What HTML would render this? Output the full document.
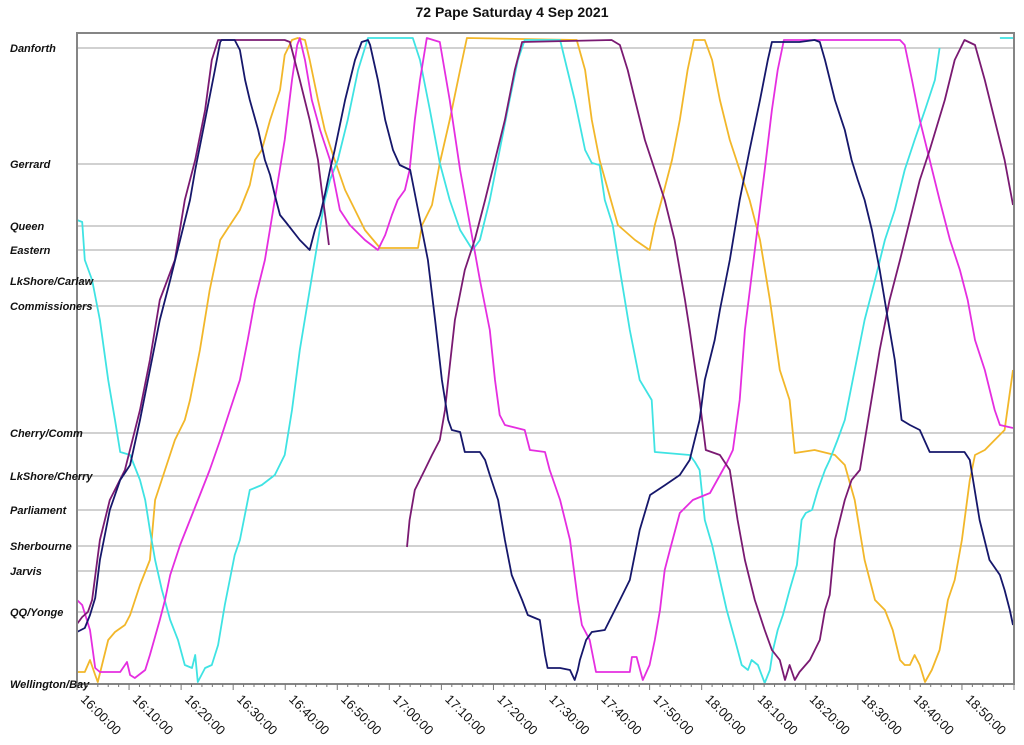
<!DOCTYPE html>
<html><head><meta charset="utf-8"><title>72 Pape Saturday 4 Sep 2021</title>
<style>
html,body{margin:0;padding:0;background:#fff;}
svg{display:block;font-family:"Liberation Sans",Arial,sans-serif;}
.stop{font-size:11px;font-weight:bold;font-style:italic;fill:#111;}
.tick{font-size:13px;fill:#111;}
</style></head>
<body>
<svg id="chart" width="1024" height="745" viewBox="0 0 1024 745" xmlns="http://www.w3.org/2000/svg">
<text x="512" y="17" text-anchor="middle" font-size="14" font-weight="bold" fill="#111">72 Pape Saturday 4 Sep 2021</text>
<g id="grid"></g>
<g id="series"></g>
<rect x="77" y="33" width="937" height="651" fill="none" stroke="#858585" stroke-width="2"/>
<g id="axes"></g>
</svg>
<script>
// stops (distance units, Wellington/Bay = 0)
const stopNames = ["Danforth","Gerrard","Queen","Eastern","LkShore/Carlaw","Commissioners","Cherry/Comm","LkShore/Cherry","Parliament","Sherbourne","Jarvis","QQ/Yonge","Wellington/Bay"];
const stopDist = [636,520,458,434,403,378,251,208,174,138,113,72,0];
// x ticks (minutes after 16:00)
const tickMinutes = [0,10,20,30,40,50,60,70,80,90,100,110,120,130,140,150,160,170];
const tickLabels = ["16:00:00","16:10:00","16:20:00","16:30:00","16:40:00","16:50:00","17:00:00","17:10:00","17:20:00","17:30:00","17:40:00","17:50:00","18:00:00","18:10:00","18:20:00","18:30:00","18:40:00","18:50:00"];

const navyT = [0,1.5,2.5,3.5,4.4,6.3,8.3,10.2,12.1,14.0,15.9,17.9,19.8,21.7,22.7,24.6,26.5,27.5,27.8,30.3,31.3,32.3,33.2,34.8,36.1,37.1,38.0,39.0,40.1,42.8,44.7,45.7,46.7,47.6,48.6,49.5,51.5,53.4,54.7,55.9,56.3,57.8,59.2,60.7,62.0,64.0,65.9,67.4,68.8,70.1,71.3,72.0,73.6,74.5,77.4,78.4,79.3,80.9,82.2,83.5,84.7,85.5,86.6,88.9,89.9,90.4,92.8,94.7,95.6,96.2,96.6,97.8,98.9,101.4,104.3,106.2,108.1,110.1,113.0,115.8,117.7,119.6,120.6,122.5,123.5,125.4,127.3,129.2,131.2,132.7,133.5,138.8,141.7,142.7,143.7,145.6,147.5,148.8,150.0,151.3,152.7,154.2,155.8,157.1,158.4,160.0,161.9,163.8,170.5,171.5,173.4,175.3,177.3,178.2,179.2,179.8];
const navyD = [52,56,69,86,124,174,204,219,264,314,364,404,444,484,514,564,614,642,644,644,634,604,584,554,524,509,489,469,462,444,434,454,469,489,514,534,584,624,642,644,639,604,564,534,519,514,464,424,364,304,264,254,252,232,232,224,209,184,144,109,94,84,69,64,29,16,16,14,4,14,24,44,52,54,84,104,154,189,199,209,224,264,304,344,374,424,484,534,584,624,642,642,644,642,624,584,554,524,504,484,454,414,364,324,264,259,254,232,232,224,164,124,109,94,74,59];

const purpleT = [0,1.0,2.1,2.9,4.4,6.3,9.2,12.1,14.0,15.9,18.8,20.7,22.7,24.6,25.9,27.1,39.9,40.9,42.8,44.7,46.3,47.0,47.8,48.4,null,63.4,63.9,64.9,66.8,68.2,69.7,70.7,71.3,72.6,74.5,76.4,78.4,80.3,82.2,84.1,85.5,102.7,104.3,105.8,107.2,109.1,111.0,112.9,114.8,116.8,117.7,119.6,120.8,123.5,125.4,126.9,128.3,130.2,132.1,133.5,135.0,136.0,136.9,137.9,138.8,140.8,142.7,143.7,144.6,145.6,147.5,148.8,150.4,152.3,154.2,156.1,158.1,160.0,161.9,163.8,166.7,168.6,170.5,172.5,174.4,176.3,178.2,179.8];
const purpleD = [60,67,72,84,144,184,214,274,324,384,424,484,524,574,624,644,644,642,604,564,524,494,464,439,null,137,164,194,214,229,244,274,304,364,414,444,484,524,564,614,642,644,639,614,584,544,514,484,444,384,354,284,234,229,214,164,124,84,54,34,24,4,19,4,12,24,44,74,89,144,184,204,214,274,334,384,424,464,504,534,584,624,644,639,604,564,524,479];

const magentaT = [0,1.0,2.5,3.5,4.4,8.3,9.6,10.2,11.1,13.1,14.0,15.9,16.9,17.9,19.8,21.7,23.6,25.5,27.5,29.4,31.3,32.8,34.2,36.1,38.0,39.9,41.3,42.3,42.8,43.8,45.1,46.7,48.6,50.5,52.4,55.3,57.8,59.2,60.5,61.6,63.0,63.9,64.9,65.9,67.2,69.7,71.6,73.6,75.5,77.4,79.3,80.3,81.2,82.2,86.0,87.0,89.9,90.8,92.8,94.7,96.2,97.0,98.5,99.7,106.2,106.6,107.5,108.7,110.0,111.0,112.0,112.9,113.9,115.8,118.3,121.6,124.8,126.0,127.3,128.3,130.2,132.1,133.5,134.6,135.8,158.1,159.0,160.4,161.9,163.8,165.7,167.7,169.6,171.1,172.5,174.4,176.3,177.3,179.8];
const magentaD = [84,79,54,16,12,12,22,9,6,14,29,64,84,109,139,164,189,214,244,274,304,344,384,424,484,544,604,639,646,624,584,554,524,474,459,444,434,449,469,484,494,514,564,604,646,642,584,514,459,404,354,304,269,259,254,234,232,214,184,144,84,59,44,12,12,27,27,4,19,44,74,114,134,171,184,191,221,234,284,354,434,514,574,614,644,644,639,604,564,524,484,444,414,384,344,314,274,259,256];

const orangeT = [0,1.5,2.5,3.5,4.0,4.8,6.0,7.3,9.2,10.2,12.1,14.0,15.0,16.9,18.8,20.7,21.7,23.6,25.5,27.5,29.4,31.3,33.2,34.2,35.5,37.1,39.0,39.9,41.3,42.4,43.8,44.7,46.3,47.6,49.5,51.5,53.4,55.3,58.2,65.5,66.3,68.2,69.7,71.6,73.6,74.9,96.0,97.6,98.9,100.4,102.0,103.9,107.2,110.0,111.0,112.3,114.3,115.8,117.3,118.5,120.6,122.0,123.5,125.4,127.3,129.2,131.2,133.1,135.0,136.9,137.9,141.7,145.6,147.5,149.4,151.3,153.3,155.2,156.7,158.1,159.0,160.0,160.9,161.9,162.9,164.2,165.7,167.3,168.6,170.0,171.5,172.5,174.4,176.3,178.2,179.8];
const orangeD = [12,12,24,9,2,19,44,52,59,69,99,124,184,214,244,264,284,334,394,444,459,474,499,524,534,564,594,629,644,646,644,624,584,554,524,494,474,454,436,436,459,479,521,564,614,646,644,614,564,524,494,459,444,434,459,484,524,564,614,644,644,624,584,544,514,484,444,384,314,284,231,234,229,219,184,124,84,74,54,24,19,19,29,19,2,14,34,84,104,144,204,229,234,244,254,314];

const cyanT = [0,1.0,1.5,2.9,4.4,6.0,7.3,8.3,10.2,12.1,13.1,14.0,15.0,16.3,17.9,19.4,20.7,22.1,22.7,23.2,24.6,25.9,27.1,28.4,30.3,31.3,33.2,35.5,38.0,39.9,41.3,42.8,44.7,46.3,47.6,48.6,50.1,52.0,54.0,55.9,64.5,65.9,67.8,69.7,71.6,73.6,76.0,77.4,79.3,81.2,83.1,84.7,86.0,92.8,95.6,97.6,98.9,100.4,101.4,102.9,104.3,106.2,108.1,110.4,111.0,117.7,118.7,119.6,120.2,120.6,122.0,123.5,124.8,126.4,127.7,128.9,129.6,130.8,132.1,133.1,133.7,134.6,135.6,136.9,138.3,139.2,140.0,141.2,142.3,143.7,144.6,146.1,147.5,149.4,151.3,153.3,155.2,157.1,159.0,160.9,162.9,164.8,165.7,null,177.3,179.8];
const cyanD = [464,462,424,404,364,304,264,232,229,204,184,154,124,94,64,44,19,16,29,2,16,19,39,79,129,144,194,199,209,229,274,334,394,444,484,504,524,564,614,646,646,624,574,521,484,454,434,444,484,534,584,624,644,644,584,534,521,519,484,459,414,354,304,284,232,229,222,214,184,164,139,104,74,44,19,14,24,19,1,14,34,54,69,94,119,164,171,174,194,214,224,244,264,314,364,404,444,474,514,544,574,604,636,null,646,646];

const NS = "http://www.w3.org/2000/svg";
const X0 = 77, X1 = 1014, Y0 = 684;
const xScale = m => X0 + m * (X1 - X0) / 180;
const yScale = d => Y0 - d * (651 / 651);

const grid = document.getElementById('grid');
const axes = document.getElementById('axes');
const seriesG = document.getElementById('series');

stopNames.forEach((name, i) => {
  const y = yScale(stopDist[i]);
  if (stopDist[i] > 0) {
    const ln = document.createElementNS(NS, 'line');
    ln.setAttribute('x1', X0); ln.setAttribute('x2', X1);
    ln.setAttribute('y1', y); ln.setAttribute('y2', y);
    ln.setAttribute('stroke', '#a3a3a3'); ln.setAttribute('stroke-width', '1');
    
    
    grid.appendChild(ln);
  }
  const t = document.createElementNS(NS, 'text');
  t.setAttribute('x', 10); t.setAttribute('y', y + 4);
  t.setAttribute('class', 'stop');
  t.textContent = name;
  
  
  axes.appendChild(t);
});

for (let m = 0; m <= 180; m += 2) {
  const x = xScale(m);
  const major = m % 10 === 0;
  const tk = document.createElementNS(NS, 'line');
  tk.setAttribute('x1', x); tk.setAttribute('x2', x);
  tk.setAttribute('y1', Y0); tk.setAttribute('y2', Y0 + (major ? 6 : 3));
  tk.setAttribute('stroke', '#777'); tk.setAttribute('stroke-width', '1');
  
  
  axes.appendChild(tk);
}
tickMinutes.forEach((m, i) => {
  const x = xScale(m) + 3;
  const t = document.createElementNS(NS, 'text');
  t.setAttribute('x', x); t.setAttribute('y', 700);
  t.setAttribute('class', 'tick');
  t.setAttribute('transform', 'rotate(45 ' + x + ' 700)');
  t.textContent = tickLabels[i];
  
  
  axes.appendChild(t);
});

function drawSeries(T, D, color, name) {
  let d = '', pen = false;
  for (let i = 0; i < T.length; i++) {
    if (T[i] === null || D[i] === null) { pen = false; continue; }
    d += (pen ? 'L' : 'M') + xScale(T[i]).toFixed(1) + ',' + yScale(D[i]).toFixed(1);
    pen = true;
  }
  const p = document.createElementNS(NS, 'path');
  p.setAttribute('d', d);
  p.setAttribute('fill', 'none');
  p.setAttribute('stroke', color);
  p.setAttribute('stroke-width', '1.8');
  p.setAttribute('stroke-linejoin', 'round');
  
  
  seriesG.appendChild(p);
}
drawSeries(orangeT, orangeD, '#f2b72a', 'series-orange-bus');
drawSeries(cyanT, cyanD, '#3fe3e3', 'series-cyan-bus');
drawSeries(magentaT, magentaD, '#e52ee0', 'series-magenta-bus');
drawSeries(purpleT, purpleD, '#7a1a72', 'series-purple-bus');
drawSeries(navyT, navyD, '#16176b', 'series-navy-bus');
</script>
</body></html>
